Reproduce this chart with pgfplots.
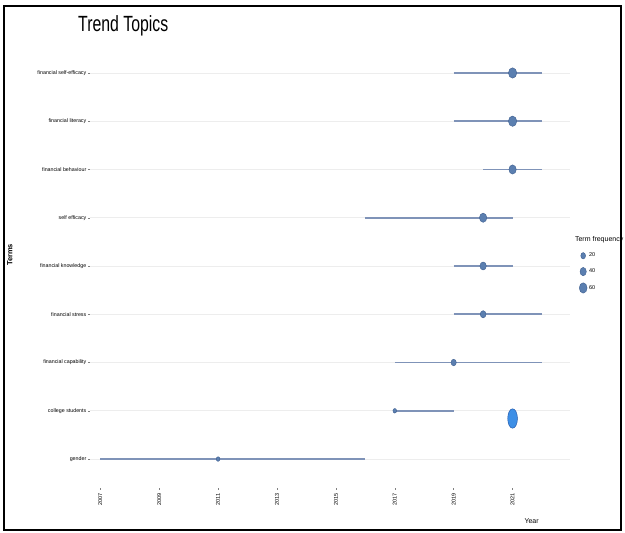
\documentclass[border=0pt]{standalone}
\usepackage{pgfplots}
\pgfplotsset{compat=1.18}
\usepackage{fontspec}
\setmainfont{Liberation Sans}
\usepackage{graphicx}
\definecolor{seg}{HTML}{7F93B8}
\definecolor{dot}{HTML}{5B7FB0}
\definecolor{dotedge}{HTML}{3F5F8F}
\definecolor{gridc}{HTML}{EDEDED}
\definecolor{hl}{HTML}{3D8FE6}
\definecolor{hledge}{HTML}{1F4FA0}
\begin{document}
\begin{tikzpicture}[x=1pt,y=1pt]
\useasboundingbox (0,0) rectangle (625,533);
\draw[line width=1.8pt] (4,3) rectangle (621,527);
\node[anchor=west,inner sep=0pt] at (78,507) {\scalebox{0.72}[1]{\fontsize{22}{22}\selectfont Trend Topics}};
\begin{axis}[
  at={(90pt,45pt)}, anchor=south west, scale only axis,
  width=480pt, height=444pt,
  xmin=2006.65, xmax=2022.95, ymin=0.4, ymax=9.6,
  axis line style={draw=none},
  xtick={2007,2009,...,2021},
  ytick={1,...,9},
  yticklabels={gender, college students, financial capability, financial stress, financial knowledge, self efficacy, financial behaviour, financial literacy, financial self-efficacy},
  ymajorgrids, major grid style={gridc, line width=0.7pt},
  tick style={gray, line width=0.4pt}, major tick length=2pt, tick align=outside,
  xtick pos=bottom, ytick pos=left,
  xticklabel style={rotate=90, anchor=east, font=\fontsize{5.5}{6}\selectfont},
  yticklabel style={font=\fontsize{5.3}{6}\selectfont, inner sep=1.5pt},
  /pgf/number format/1000 sep={}, /pgf/number format/assume math mode=true,
  xlabel={Year}, ylabel={\textbf{Terms}},
  xlabel style={at={(axis description cs:0.92,-0.075)}, anchor=center, font=\fontsize{7}{8}\selectfont},
  ylabel style={at={(axis description cs:-0.167,0.525)}, anchor=center, font=\fontsize{7.5}{8}\selectfont},
  legend style={at={(axis description cs:1.003,0.577)}, anchor=north west, draw=none, fill=none,
    font=\fontsize{5.5}{6}\selectfont, row sep=6.5pt},
  legend cell align=left,
]
% segments (Q1 to Q3)
\addplot[seg, line width=1.7pt, forget plot] coordinates {(2019,9) (2022,9)};
\addplot[seg, line width=1.7pt, forget plot] coordinates {(2019,8) (2022,8)};
\addplot[seg, line width=1.7pt, forget plot] coordinates {(2020,7) (2022,7)};
\addplot[seg, line width=1.7pt, forget plot] coordinates {(2016,6) (2021,6)};
\addplot[seg, line width=1.7pt, forget plot] coordinates {(2019,5) (2021,5)};
\addplot[seg, line width=1.7pt, forget plot] coordinates {(2019,4) (2022,4)};
\addplot[seg, line width=1.7pt, forget plot] coordinates {(2017,3) (2022,3)};
\addplot[seg, line width=1.7pt, forget plot] coordinates {(2017,2) (2019,2)};
\addplot[seg, line width=1.7pt, forget plot] coordinates {(2007,1) (2016,1)};
% medians
\addplot[only marks, mark=*, mark size=5.2, mark options={fill=dot, draw=dotedge, xscale=0.8}, forget plot] coordinates {(2021,9)};
\addplot[only marks, mark=*, mark size=5.2, mark options={fill=dot, draw=dotedge, xscale=0.8}, forget plot] coordinates {(2021,8)};
\addplot[only marks, mark=*, mark size=4.6, mark options={fill=dot, draw=dotedge, xscale=0.8}, forget plot] coordinates {(2021,7)};
\addplot[only marks, mark=*, mark size=4.6, mark options={fill=dot, draw=dotedge, xscale=0.8}, forget plot] coordinates {(2020,6)};
\addplot[only marks, mark=*, mark size=4, mark options={fill=dot, draw=dotedge, xscale=0.8}, forget plot] coordinates {(2020,5)};
\addplot[only marks, mark=*, mark size=3.6, mark options={fill=dot, draw=dotedge, xscale=0.8}, forget plot] coordinates {(2020,4)};
\addplot[only marks, mark=*, mark size=3.3, mark options={fill=dot, draw=dotedge, xscale=0.8}, forget plot] coordinates {(2019,3)};
\addplot[only marks, mark=*, mark size=2.3, mark options={fill=dot, draw=dotedge, xscale=0.8}, forget plot] coordinates {(2017,2)};
\addplot[only marks, mark=*, mark size=2.3, mark options={fill=dot, draw=dotedge, xscale=0.8}, forget plot] coordinates {(2011,1)};
% highlighted mark
\addplot[only marks, mark=*, mark size=6.5, mark options={fill=hl, draw=hledge, xscale=0.75, yscale=1.5}, forget plot] coordinates {(2021,1.84)};
% legend
\addlegendimage{empty legend}
\addlegendentry{\hspace{-14pt}\fontsize{7}{8}\selectfont Term frequency}
\addlegendimage{only marks, mark=*, mark size=3.2, mark options={fill=dot, draw=dotedge, xscale=0.75}}
\addlegendentry{20}
\addlegendimage{only marks, mark=*, mark size=4.2, mark options={fill=dot, draw=dotedge, xscale=0.75}}
\addlegendentry{40}
\addlegendimage{only marks, mark=*, mark size=5.2, mark options={fill=dot, draw=dotedge, xscale=0.75}}
\addlegendentry{60}
\end{axis}
\end{tikzpicture}
\end{document}
